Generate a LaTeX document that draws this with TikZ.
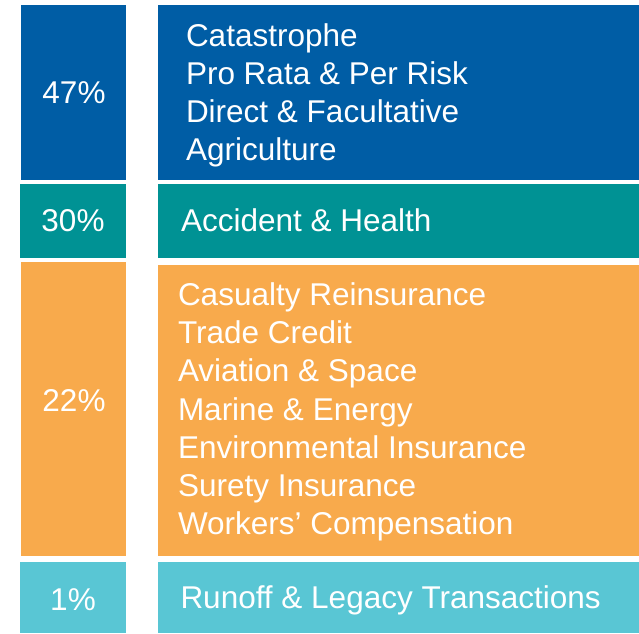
\documentclass[tikz,border=0pt]{standalone}
\usepackage{fontspec}
\setmainfont{Liberation Sans}
\definecolor{cblue}{HTML}{005DA5}
\definecolor{cteal}{HTML}{009294}
\definecolor{corange}{HTML}{F8AA4C}
\definecolor{clight}{HTML}{59C6D4}
\begin{document}
\begin{tikzpicture}[x=1pt,y=-1pt,
  box/.style={draw=none, inner sep=0pt, outer sep=0pt, anchor=north west},
  pbox/.style={box, minimum width=105.5pt},
  rbox/.style={box, minimum width=481pt},
  lbl/.style={text=white, inner sep=0pt, outer sep=0pt, font=\fontsize{31.5}{38}\selectfont}]
\useasboundingbox (0,0) rectangle (639,633);
\fill[white] (0,0) rectangle (639,633);
% boxes
\node[pbox, fill=cblue, minimum height=175pt] (p1) at (20.5,5) {};
\node[rbox, fill=cblue, minimum height=175pt] (r1) at (158,5) {};
\node[pbox, fill=cteal, minimum height=74pt] (p2) at (20,184) {};
\node[rbox, fill=cteal, minimum height=74pt] (r2) at (158,184) {};
\node[pbox, fill=corange, minimum height=294pt] (p3) at (20.5,262) {};
\node[rbox, fill=corange, minimum height=291pt] (r3) at (158,265) {};
\node[pbox, fill=clight, minimum height=71pt] (p4) at (20,562) {};
\node[rbox, fill=clight, minimum height=71pt] (r4) at (158,562) {};
% percentages
\node[lbl, anchor=base] (t1) at (74,103.3) {47\%};
\node[lbl, anchor=base] (t2) at (73,231.7) {30\%};
\node[lbl, anchor=base] (t3) at (74,411.7) {22\%};
\node[lbl, anchor=base] (t4) at (73,610) {1\%};
% blue lines
\foreach \s [count=\i from 0] in {Catastrophe, Pro Rata \& Per Risk, Direct \& Facultative, Agriculture}
  \node[lbl, anchor=base west] (a\i) at (186,46+38*\i) {\s};
% teal
\node[lbl, anchor=base west] (b0) at (181,231.7) {Accident \& Health};
% orange lines
\foreach \s [count=\i from 0] in {Casualty Reinsurance, Trade Credit, Aviation \& Space, Marine \& Energy, Environmental Insurance, Surety Insurance, Workers’ Compensation}
  \node[lbl, anchor=base west] (c\i) at (178,305+38.33*\i) {\s};
% light blue
\node[lbl, anchor=base west] (d0) at (180.5,608.3) {Runoff \& Legacy Transactions};
\end{tikzpicture}
\end{document}
